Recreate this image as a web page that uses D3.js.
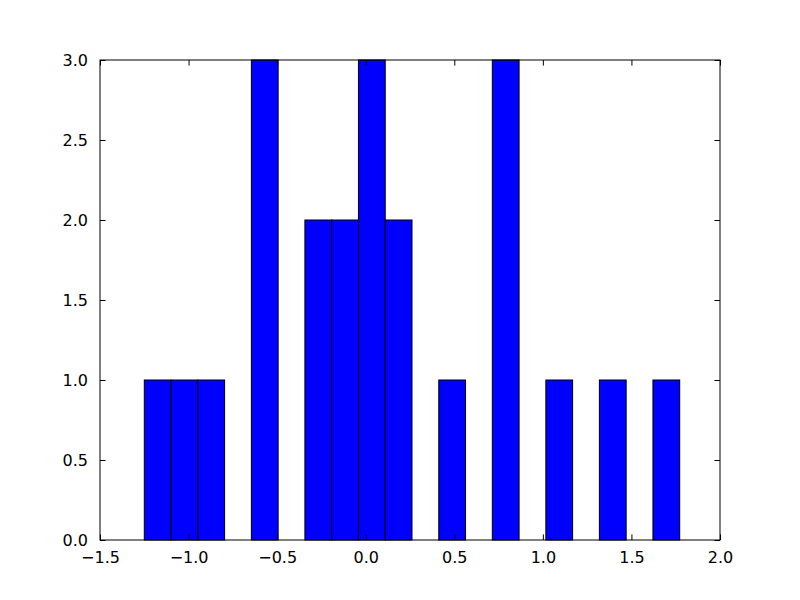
<!DOCTYPE html>
<html><head><meta charset="utf-8">
<script src="https://cdn.jsdelivr.net/npm/d3@7"></script>
<style>body{margin:0;background:#fff}svg{display:block}text{font-family:"DejaVu Sans",sans-serif}</style>
</head><body><svg id="c" width="800" height="600"></svg>
<script>
const binEdges = [-1.25,-1.0989,-0.9478,-0.7966,-0.6455,-0.4944,-0.3433,-0.1921,-0.0410,0.1101,0.2613,0.4124,0.5635,0.7146,0.8658,1.0169,1.1680,1.3191,1.4703,1.6214,1.7725];
const counts = [1,1,1,0,3,0,2,2,3,2,0,1,0,3,0,1,0,1,0,1];
const xTicks = [-1.5,-1.0,-0.5,0.0,0.5,1.0,1.5,2.0];
const yTicks = [0.0,0.5,1.0,1.5,2.0,2.5,3.0];

const svg = d3.select("#c");
const L=100,R=720,T=60,B=540;
const x = d3.scaleLinear().domain([-1.5,2.0]).range([L,R]);
const y = d3.scaleLinear().domain([0,3]).range([B,T]);
const bins = counts.map((c,i)=>({x0:binEdges[i],x1:binEdges[i+1],c})).filter(d=>d.c>0);
svg.append("g").selectAll("rect").data(bins).join("rect")
  .attr("x",d=>x(d.x0)).attr("width",d=>x(d.x1)-x(d.x0))
  .attr("y",d=>y(d.c)).attr("height",d=>y(0)-y(d.c))
  .attr("fill","#0000ff").attr("stroke","#000").attr("stroke-width",1);
const fmt = d3.format(".1f");
const tl = 5.6;
function style(g){g.select(".domain").remove();g.selectAll("text").attr("font-size","16px").attr("fill","#000").attr("font-family","DejaVu Sans");g.selectAll("line").attr("stroke","#000");}
svg.append("g").attr("transform",`translate(0,${B})`).call(d3.axisBottom(x).tickValues(xTicks).tickFormat(fmt).tickSizeInner(-tl).tickSizeOuter(0).tickPadding(12)).call(style);
svg.append("g").attr("transform",`translate(0,${T})`).call(d3.axisTop(x).tickValues(xTicks).tickFormat("").tickSizeInner(-tl).tickSizeOuter(0)).call(style);
svg.append("g").attr("transform",`translate(${L},0)`).call(d3.axisLeft(y).tickValues(yTicks).tickFormat(fmt).tickSizeInner(-tl).tickSizeOuter(0).tickPadding(12)).call(style);
svg.append("g").attr("transform",`translate(${R},0)`).call(d3.axisRight(y).tickValues(yTicks).tickFormat("").tickSizeInner(-tl).tickSizeOuter(0)).call(style);
svg.append("rect").attr("x",L).attr("y",T).attr("width",R-L).attr("height",B-T).attr("fill","none").attr("stroke","#000").attr("stroke-width",1);
</script></body></html>
